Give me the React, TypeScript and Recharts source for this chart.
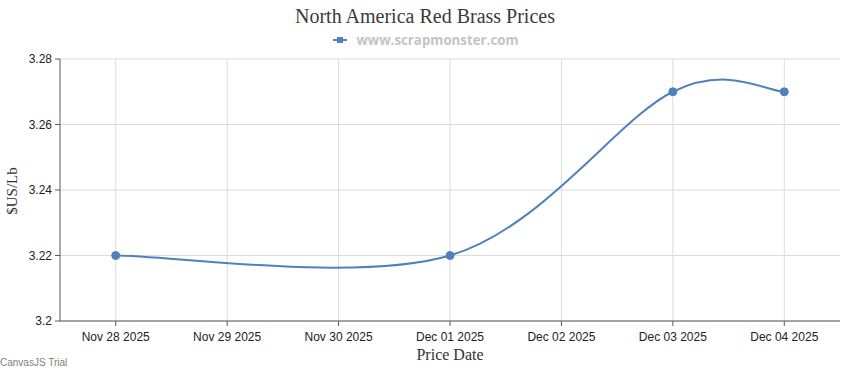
import React from "react";
import { LineChart, Line, XAxis, YAxis, CartesianGrid } from "recharts";

// price points (dates are days with a published price)
const priceDates = ["2025-11-28", "2025-12-01", "2025-12-03", "2025-12-04"];
const prices = [3.22, 3.22, 3.27, 3.27];

// axis ticks
const dayLabels = [
  "Nov 28 2025",
  "Nov 29 2025",
  "Nov 30 2025",
  "Dec 01 2025",
  "Dec 02 2025",
  "Dec 03 2025",
  "Dec 04 2025",
];
const yTicks = [3.2, 3.22, 3.24, 3.26, 3.28];

const DAY = 86400000;
const start = Date.parse(priceDates[0]);
const data = priceDates.map((d, i) => ({
  day: (Date.parse(d) - start) / DAY,
  price: prices[i],
}));
const dayTicks = dayLabels.map((_, i) => i);

const lineColor = "#4f81bc";

// spline like the canvasjs one: cubic bezier, control points at 1/6 of neighbour span
const canvasSpline = (context: any) => {
  let pts: [number, number][] = [];
  return {
    areaStart() {},
    areaEnd() {},
    lineStart() {
      pts = [];
    },
    lineEnd() {
      if (!pts.length) return;
      context.moveTo(pts[0][0], pts[0][1]);
      for (let i = 0; i < pts.length - 1; i++) {
        const p0 = pts[Math.max(i - 1, 0)];
        const p1 = pts[i];
        const p2 = pts[i + 1];
        const p3 = pts[Math.min(i + 2, pts.length - 1)];
        context.bezierCurveTo(
          p1[0] + (p2[0] - p0[0]) / 6,
          p1[1] + (p2[1] - p0[1]) / 6,
          p2[0] - (p3[0] - p1[0]) / 6,
          p2[1] - (p3[1] - p1[1]) / 6,
          p2[0],
          p2[1]
        );
      }
    },
    point(x: number, y: number) {
      pts.push([x, y]);
    },
  };
};

const tickStyle = { fontFamily: "Liberation Sans, Arial, sans-serif", fontSize: 12, fill: "#222" };

export default function App() {
  return (
    <div style={{ position: "absolute", left: 0, top: 0, width: 850, height: 370, background: "#fff" }}>
      <div
        style={{
          position: "absolute",
          top: 4,
          width: 850,
          textAlign: "center",
          fontFamily: "Liberation Serif, serif",
          fontSize: 20,
          color: "#3a3a3a",
          lineHeight: "24px",
        }}
      >
        North America Red Brass Prices
      </div>
      <div
        style={{
          position: "absolute",
          top: 31,
          width: 850,
          display: "flex",
          justifyContent: "center",
          alignItems: "center",
          height: 18,
        }}
      >
        <svg width={20} height={10} style={{ marginRight: 5 }}>
          <line x1={2} y1={5} x2={16} y2={5} stroke={lineColor} strokeWidth={2} />
          <rect x={6} y={2} width={6} height={6} fill={lineColor} />
        </svg>
        <span style={{ fontFamily: "Open Sans, sans-serif", fontWeight: 700, fontSize: 13.3, color: "#c4c4c4" }}>
          www.scrapmonster.com
        </span>
      </div>
      <LineChart
        width={850}
        height={370}
        data={data}
        margin={{ top: 59, right: 10, bottom: 19, left: 0 }}
      >
        <CartesianGrid stroke="#dcdcdc" syncWithTicks />
        <XAxis
          dataKey="day"
          type="number"
          domain={[-0.5, 6.5]}
          ticks={dayTicks}
          tickFormatter={(v: number) => dayLabels[v] ?? ""}
          height={30}
          tick={tickStyle}
          tickSize={5}
          tickMargin={6}
          stroke="#5a5a5a"
          interval={0}
        />
        <YAxis
          domain={[3.2, 3.28]}
          ticks={yTicks}
          width={60}
          tick={tickStyle}
          tickSize={5}
          tickMargin={3}
          stroke="#5a5a5a"
          tickFormatter={(v: number) => String(v)}
        />
        <Line
          dataKey="price"
          type={canvasSpline as any}
          stroke={lineColor}
          strokeWidth={2}
          dot={{ r: 4, fill: lineColor, stroke: lineColor, strokeWidth: 1 }}
          activeDot={false}
          isAnimationActive={false}
        />
      </LineChart>
      <div
        style={{
          position: "absolute",
          left: 12,
          top: 191,
          transform: "translate(-50%, -50%) rotate(-90deg)",
          fontFamily: "Liberation Serif, serif",
          fontSize: 15,
          color: "#333",
          whiteSpace: "nowrap",
        }}
      >
        $US/Lb
      </div>
      <div
        style={{
          position: "absolute",
          top: 345,
          left: 60,
          width: 780,
          textAlign: "center",
          fontFamily: "Liberation Serif, serif",
          fontSize: 16,
          color: "#333",
          lineHeight: "20px",
        }}
      >
        Price Date
      </div>
      <div
        style={{
          position: "absolute",
          left: 0,
          top: 357,
          fontFamily: "Liberation Sans, Arial, sans-serif",
          fontSize: 10,
          color: "#808080",
          lineHeight: "12px",
        }}
      >
        CanvasJS Trial
      </div>
    </div>
  );
}
